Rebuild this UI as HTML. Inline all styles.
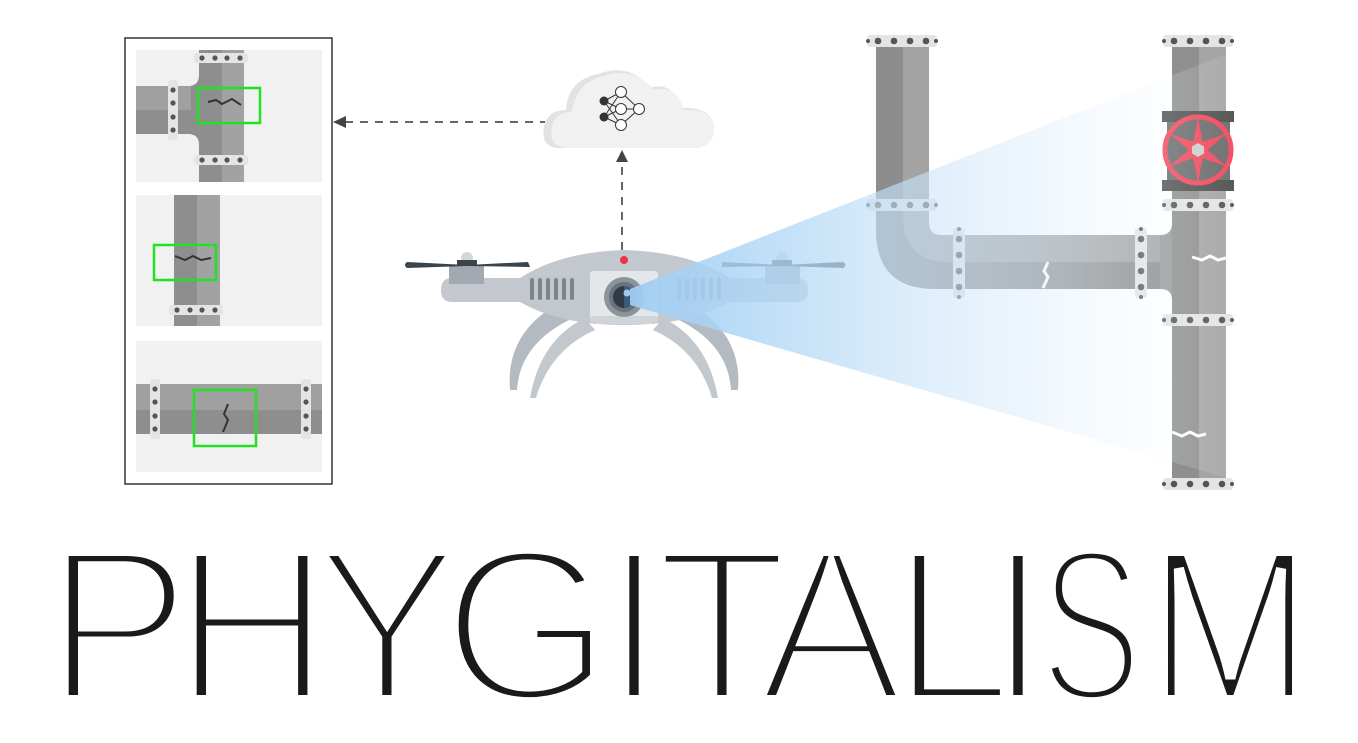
<!DOCTYPE html>
<html><head><meta charset="utf-8"><style>
html,body{margin:0;padding:0;background:#fff;}
svg{display:block}
</style></head><body>
<svg width="1358" height="743" viewBox="0 0 1358 743" xmlns="http://www.w3.org/2000/svg">
<defs>
<linearGradient id="beam" x1="630" y1="0" x2="1262" y2="0" gradientUnits="userSpaceOnUse">
<stop offset="0" stop-color="#9fcdf3" stop-opacity="0.95"/>
<stop offset="0.3" stop-color="#b9dbf6" stop-opacity="0.75"/>
<stop offset="0.65" stop-color="#dcedfb" stop-opacity="0.45"/>
<stop offset="1" stop-color="#ffffff" stop-opacity="0"/>
</linearGradient>
<g id="hfl"><rect x="-35" y="-6" width="70" height="12" rx="3" fill="#e4e4e4"/><circle cx="-24" r="3.3" fill="#555"/><circle cx="-8" r="3.3" fill="#555"/><circle cx="8" r="3.3" fill="#555"/><circle cx="24" r="3.3" fill="#555"/><circle cx="-34" r="2" fill="#555"/><circle cx="34" r="2" fill="#555"/></g>
<g id="vfl"><rect x="-6" y="-35" width="12" height="70" rx="3" fill="#e4e4e4"/><circle cy="-24" r="3.3" fill="#555"/><circle cy="-8" r="3.3" fill="#555"/><circle cy="8" r="3.3" fill="#555"/><circle cy="24" r="3.3" fill="#555"/><circle cy="-34" r="2" fill="#555"/><circle cy="34" r="2" fill="#555"/></g>
<g id="shfl"><rect x="-27" y="-5" width="54" height="10" rx="3" fill="#e4e4e4"/><circle cx="-19" r="2.6" fill="#555"/><circle cx="-6" r="2.6" fill="#555"/><circle cx="6" r="2.6" fill="#555"/><circle cx="19" r="2.6" fill="#555"/></g>
<g id="svfl"><rect x="-5" y="-30" width="10" height="60" rx="3" fill="#e4e4e4"/><circle cy="-20" r="2.6" fill="#555"/><circle cy="-7" r="2.6" fill="#555"/><circle cy="7" r="2.6" fill="#555"/><circle cy="20" r="2.6" fill="#555"/></g>
</defs>

<!-- LEFT PANEL -->
<rect x="125" y="38" width="207" height="446" fill="#fff" stroke="#333" stroke-width="1.5"/>
<rect x="136" y="50" width="186" height="132" fill="#f1f1f1"/>
<rect x="136" y="195" width="186" height="131" fill="#f1f1f1"/>
<rect x="136" y="341" width="186" height="131" fill="#f1f1f1"/>
<path d="M136 86 H188 Q199 86 199 75 V50 H244 V182 H199 V145 Q199 134 188 134 H136 Z" fill="#8e8e8e"/>
<rect x="222" y="50" width="22" height="132" fill="#a2a2a2"/>
<rect x="136" y="86" width="55" height="24" fill="#a0a0a0"/>
<use href="#shfl" x="221" y="58"/><use href="#shfl" x="221" y="160"/><use href="#svfl" x="173" y="110"/>
<path d="M208 102 l8 -2 l6 4 l10 -5 l9 6" stroke="#333" stroke-width="2" fill="none"/>
<rect x="198" y="88" width="62" height="35" fill="none" stroke="#22e022" stroke-width="2.5"/>
<rect x="174" y="195" width="46" height="131" fill="#8e8e8e"/>
<rect x="197" y="195" width="23" height="131" fill="#a2a2a2"/>
<use href="#shfl" x="196" y="310"/>
<path d="M175 256 l10 4 l8 -4 l8 4 l10 -2" stroke="#333" stroke-width="2" fill="none"/>
<rect x="154" y="245" width="62" height="35" fill="none" stroke="#22e022" stroke-width="2.5"/>
<rect x="136" y="384" width="186" height="50" fill="#a0a0a0"/>
<rect x="136" y="410" width="186" height="24" fill="#8e8e8e"/>
<use href="#svfl" x="155" y="409"/><use href="#svfl" x="306" y="409"/>
<path d="M228 404 l-4 10 l4 6 l-5 12" stroke="#333" stroke-width="2" fill="none"/>
<rect x="194" y="390" width="62" height="56" fill="none" stroke="#22e022" stroke-width="2.5"/>

<!-- dashed arrows -->
<line x1="345" y1="122" x2="545" y2="122" stroke="#333" stroke-width="1.5" stroke-dasharray="8 7"/>
<polygon points="333,122 346,116 346,128" fill="#444"/>
<line x1="622" y1="250" x2="622" y2="162" stroke="#333" stroke-width="1.5" stroke-dasharray="8 7"/>
<polygon points="622,150 616,162 628,162" fill="#444"/>

<!-- cloud -->
<path d="M560 148 Q540 148 544 126 Q548 110 566 110 Q568 80 598 74 Q630 62 650 88 Q672 80 680 108 Q712 106 714 128 Q714 148 692 148 Z" fill="#e2e2e2"/>
<path d="M568 148 Q548 148 552 126 Q556 112 572 112 Q576 82 604 76 Q634 66 654 90 Q676 84 684 110 Q712 108 714 128 Q714 148 692 148 Z" fill="#f1f1f1"/>
<g stroke="#333" stroke-width="1" fill="none">
<line x1="604" y1="101" x2="621" y2="92"/><line x1="604" y1="101" x2="621" y2="109"/><line x1="604" y1="101" x2="621" y2="125"/>
<line x1="604" y1="117" x2="621" y2="92"/><line x1="604" y1="117" x2="621" y2="109"/><line x1="604" y1="117" x2="621" y2="125"/>
<line x1="621" y1="92" x2="639" y2="109"/><line x1="621" y1="109" x2="639" y2="109"/><line x1="621" y1="125" x2="639" y2="109"/>
<circle cx="621" cy="92" r="5.5" fill="#fff"/><circle cx="621" cy="109" r="5.5" fill="#fff"/><circle cx="621" cy="125" r="5.5" fill="#fff"/><circle cx="639" cy="109" r="5.5" fill="#fff"/>
</g>
<circle cx="604" cy="101" r="4.5" fill="#333"/><circle cx="604" cy="117" r="4.5" fill="#333"/>

<!-- PIPES RIGHT -->
<path d="M876 40 V230 Q876 289 935 289 H1180 V235 H941 Q929 235 929 223 V40 Z" fill="#8d8d8d"/>
<path d="M903 40 V215 Q903 262 950 262 H1180 V235 H941 Q929 235 929 223 V40 Z" fill="#a3a3a3"/>
<rect x="1172" y="40" width="54" height="442" fill="#8f8f8f"/>
<rect x="1199" y="40" width="27" height="442" fill="#a5a5a5"/>
<path d="M1160 235 Q1172 235 1172 223 V300 Q1172 289 1160 289 Z" fill="#9a9a9a"/>
<path d="M1048 262 l-4 9 l4 6 l-5 11" stroke="#fff" stroke-width="3" fill="none"/>
<path d="M1192 257 l10 3 l8 -4 l8 4 l8 -2" stroke="#fff" stroke-width="3" fill="none"/>
<path d="M1172 432 l10 4 l8 -4 l8 4 l8 -2" stroke="#fff" stroke-width="3" fill="none"/>
<use href="#hfl" x="902" y="41"/><use href="#hfl" x="902" y="205"/>
<use href="#hfl" x="1198" y="41"/><use href="#hfl" x="1198" y="205"/><use href="#hfl" x="1198" y="320"/><use href="#hfl" x="1198" y="484"/>
<use href="#vfl" x="959" y="263"/><use href="#vfl" x="1141" y="263"/>
<rect x="1167" y="111" width="63" height="80" fill="#6b6b6b"/>
<rect x="1162" y="111" width="72" height="11" fill="#4f4f4f"/>
<rect x="1162" y="180" width="72" height="11" fill="#4f4f4f"/>
<circle cx="1198" cy="150" r="33" fill="#6a6a6a" stroke="#f2475c" stroke-width="5"/>
<g fill="#f2475c" transform="translate(1198 150)">
<polygon points="0,-33 5,-6 -5,-6"/><polygon points="0,-33 5,-6 -5,-6" transform="rotate(60)"/><polygon points="0,-33 5,-6 -5,-6" transform="rotate(120)"/><polygon points="0,-33 5,-6 -5,-6" transform="rotate(180)"/><polygon points="0,-33 5,-6 -5,-6" transform="rotate(240)"/><polygon points="0,-33 5,-6 -5,-6" transform="rotate(300)"/>
<circle r="10"/>
</g>
<polygon points="1198,143 1204,146.5 1204,153.5 1198,157 1192,153.5 1192,146.5" fill="#ccc"/>

<!-- DRONE -->
<g fill="#c3c8cf">
<path d="M585 318 Q540 340 530 398 L536 398 Q550 350 595 330 Z"/>
<path d="M565 300 Q505 330 510 390 L517 390 Q520 340 580 315 Z" fill="#b4bac2"/>
<path d="M663 318 Q708 340 718 398 L712 398 Q698 350 653 330 Z"/>
<path d="M683 300 Q743 330 738 390 L731 390 Q728 340 668 315 Z" fill="#b4bac2"/>
</g>
<path d="M452 278 H520 Q560 252 624 250 Q690 252 730 278 H796 Q808 278 808 290 Q808 302 796 302 H730 Q690 325 624 325 Q560 325 520 302 H452 Q441 302 441 290 Q441 278 452 278 Z" fill="#c3c8cf"/>
<g fill="#7d848c">
<rect x="530" y="278" width="4" height="22" rx="2"/><rect x="538" y="278" width="4" height="22" rx="2"/><rect x="546" y="278" width="4" height="22" rx="2"/><rect x="554" y="278" width="4" height="22" rx="2"/><rect x="562" y="278" width="4" height="22" rx="2"/><rect x="570" y="278" width="4" height="22" rx="2"/>
<rect x="677" y="278" width="4" height="22" rx="2"/><rect x="685" y="278" width="4" height="22" rx="2"/><rect x="693" y="278" width="4" height="22" rx="2"/><rect x="701" y="278" width="4" height="22" rx="2"/><rect x="709" y="278" width="4" height="22" rx="2"/><rect x="717" y="278" width="4" height="22" rx="2"/>
</g>
<rect x="449" y="265" width="35" height="19" fill="#a3a9b1"/><rect x="765" y="265" width="35" height="19" fill="#a3a9b1"/>
<circle cx="467" cy="258" r="6" fill="#d3d7dc"/><circle cx="782" cy="258" r="6" fill="#d3d7dc"/>
<rect x="457" y="260" width="20" height="6" fill="#3b434b"/><rect x="772" y="260" width="20" height="6" fill="#3b434b"/>
<path d="M407 262 L467 265 L528 262 L530 267 L467 266 L407 268 Q403 265 407 262 Z" fill="#3b434b"/>
<path d="M722 262 L782 265 L843 262 Q848 265 843 268 L782 266 L722 267 Z" fill="#3b434b"/>
<circle cx="624" cy="260" r="4" fill="#ee3345"/>
<rect x="590" y="271" width="68" height="52" rx="3" fill="#e4e7ea"/>
<rect x="590" y="316" width="68" height="8" rx="3" fill="#cfd4d9"/>
<circle cx="624" cy="297" r="20" fill="#8b939b"/>
<circle cx="624" cy="297" r="15" fill="#6a737c"/>
<circle cx="624" cy="297" r="11" fill="#2f3a45"/>
<path d="M624 286 A11 11 0 0 1 624 308 Z" fill="#3f5a75"/>
<circle cx="627" cy="293" r="3.5" fill="#9ccaf0"/>
<polygon points="630,289 1262,40 1262,488 630,305" fill="url(#beam)"/>

<!-- TITLE -->
<g font-family="'Liberation Sans', sans-serif" font-size="218" fill="#1a1a1a" stroke="#fff" stroke-width="11" paint-order="fill" text-anchor="middle">
<text x="118" y="700.5">P</text>
<text x="252" y="700.5">H</text>
<text x="387" y="700.5">Y</text>
<text x="527" y="700.5">G</text>
<text x="634" y="700.5">I</text>
<text x="722" y="700.5">T</text>
<text x="831" y="700.5">A</text>
<text x="952" y="700.5">L</text>
<text x="1018" y="700.5">I</text>
<text transform="translate(1091 700.5) scale(0.7 1)" x="0" y="0">S</text>
<text transform="translate(1230 700.5) scale(0.92 1)" x="0" y="0">M</text>
</g>
</svg>
</body></html>
